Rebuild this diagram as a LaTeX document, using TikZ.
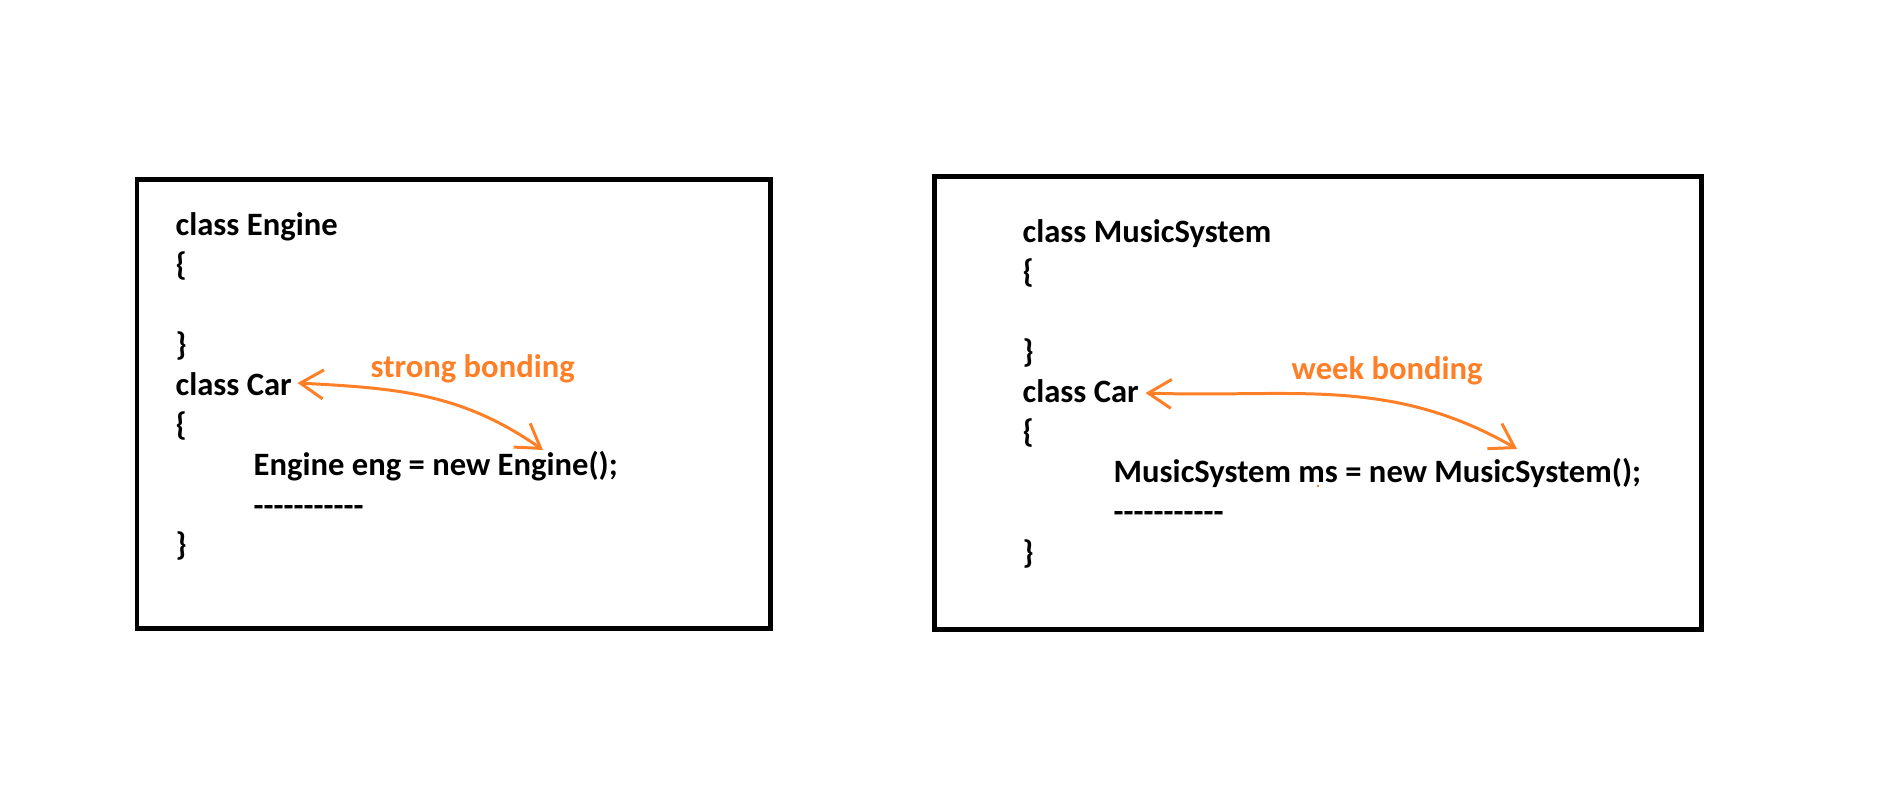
\documentclass[tikz,border=0pt]{standalone}
\usepackage{xcolor}
\usepackage{tikz}
\usepackage{fontspec}
\usetikzlibrary{arrows.meta}
\newfontfamily\codefont{Carlito}
\definecolor{bondorange}{RGB}{255,127,39}

\begin{document}
\begin{tikzpicture}
        % Define styles
        \tikzset{
            classbox/.style={draw, line width=1.42pt},
            code/.style={anchor=base west, inner sep=0pt, font=\codefont\bfseries\fontsize{9.28pt}{11.3pt}\selectfont},
            bondlabel/.style={code, text=bondorange},
            bond/.style={draw=bondorange, line width=0.85pt, {Straight Barb[length=0.23cm, width=0.29cm]}-{Straight Barb[length=0.23cm, width=0.29cm]}}
        }
        \useasboundingbox (0,0) rectangle (19.02,-8.03);

        % Boxes
        \draw[classbox] (1.37,-1.80) rectangle (7.705,-6.285);
        \draw[classbox] (9.345,-1.77) rectangle (17.015,-6.295);

        % Left box: strong bonding
        \node[code] (engine_line_1) at (1.75,-2.36) {class Engine};
        \node[code] (engine_line_2) at (1.75,-2.76) {\{};
        \node[code] (engine_line_3) at (1.75,-3.56) {\}};
        \node[code] (car_line_1) at (1.75,-3.96) {class Car};
        \node[code] (car_line_2) at (1.75,-4.36) {\{};
        \node[code] (car_line_3) at (2.53,-4.76) {Engine eng = new Engine();};
        \node[code] (car_line_4) at (2.53,-5.16) {\mbox{-}\mbox{-}\mbox{-}\mbox{-}\mbox{-}\mbox{-}\mbox{-}\mbox{-}\mbox{-}\mbox{-}\mbox{-}};
        \node[code] (car_line_5) at (1.75,-5.56) {\}};
        \node[bondlabel] (strong_label) at (3.70,-3.78) {strong bonding};

        % Right box: week bonding
        \node[code] (music_line_1) at (10.22,-2.43) {class MusicSystem};
        \node[code] (music_line_2) at (10.22,-2.83) {\{};
        \node[code] (music_line_3) at (10.22,-3.63) {\}};
        \node[code] (car2_line_1) at (10.22,-4.03) {class Car};
        \node[code] (car2_line_2) at (10.22,-4.43) {\{};
        \node[code] (car2_line_3) at (11.13,-4.83) {MusicSystem ms = new MusicSystem();};
        \node[code] (car2_line_4) at (11.13,-5.23) {\mbox{-}\mbox{-}\mbox{-}\mbox{-}\mbox{-}\mbox{-}\mbox{-}\mbox{-}\mbox{-}\mbox{-}\mbox{-}};
        \node[code] (car2_line_5) at (10.22,-5.63) {\}};
        \node[bondlabel] (week_label) at (12.91,-3.80) {week bonding};
        \fill[bondorange] (13.165,-4.85) rectangle (13.19,-4.875);

        % Arrows
        \draw[bond] ([xshift=0.05cm, yshift=0.13cm]car_line_1.base east) to[out=-3, in=145] ([xshift=2.90cm, yshift=0.26cm]car_line_3.base west);
        \draw[bond] ([xshift=0.06cm, yshift=0.10cm]car2_line_1.base east) to[out=-2, in=150] ([xshift=4.04cm, yshift=0.34cm]car2_line_3.base west);
    \end{tikzpicture}
\end{document}
